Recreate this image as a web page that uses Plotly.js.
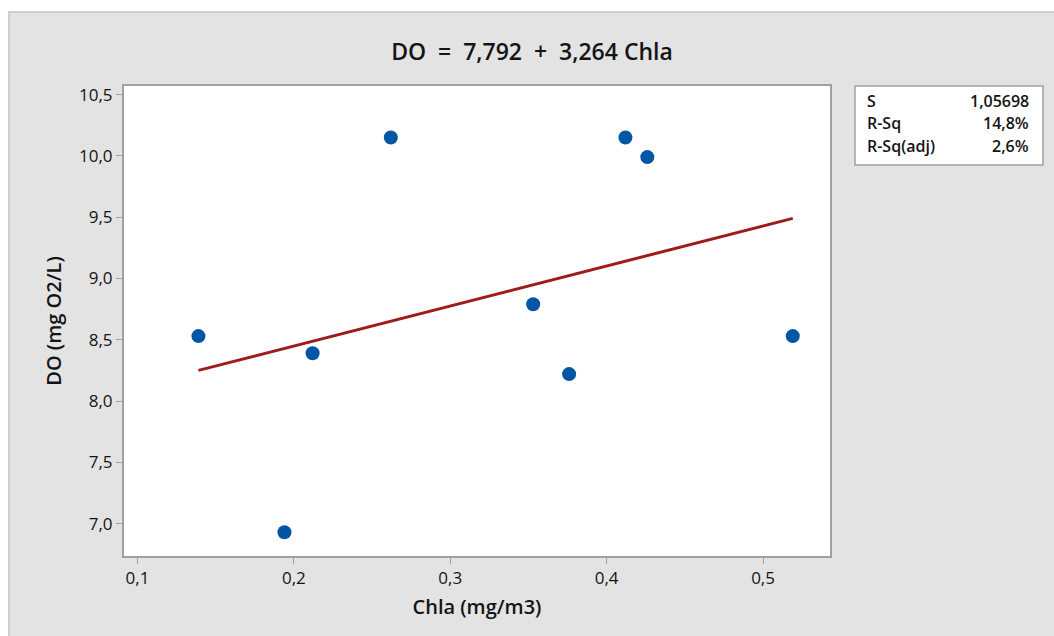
<!DOCTYPE html>
<html>
<head>
<meta charset="utf-8">
<script src="https://cdn.plot.ly/plotly-3.0.1.min.js"></script>
<style>
  html, body { margin: 0; padding: 0; background: #ffffff; width: 1054px; height: 636px; overflow: hidden; }
  #frame { position: absolute; left: 8px; top: 11px; width: 1046px; height: 625px; border-left: 2px solid #cfcfcf; border-top: 2px solid #cfcfcf; box-sizing: border-box; background: #e3e3e3; }
  #chart { width: 1044px; height: 623px; }
</style>
</head>
<body>
<div id="frame"><div id="chart"></div></div>
<script>
const chla = [0.139, 0.194, 0.212, 0.262, 0.353, 0.376, 0.412, 0.426, 0.519];
const dO   = [8.53, 6.93, 8.39, 10.15, 8.79, 8.22, 10.15, 9.99, 8.53];

// Fitted line endpoints
const fitX = [0.139, 0.519];
const fitY = [8.25, 9.49];

// Ticks
const xTickVals = [0.1, 0.2, 0.3, 0.4, 0.5];
const xTickText = ["0,1", "0,2", "0,3", "0,4", "0,5"];
const yTickVals = [7.0, 7.5, 8.0, 8.5, 9.0, 9.5, 10.0, 10.5];
const yTickText = ["7,0", "7,5", "8,0", "8,5", "9,0", "9,5", "10,0", "10,5"];

// Summary statistics
const statLabels = ["S", "R-Sq", "R-Sq(adj)"];
const statValues = ["1,05698", "14,8%", "2,6%"];

const titleText = "DO  =  7,792  +  3,264 Chla";
const xTitle = "Chla (mg/m3)";
const yTitle = "DO (mg O2/L)";

const font = "Open Sans, Noto Sans, sans-serif";
const txt = "#141414";

const traces = [
  {
    x: fitX, y: fitY, type: "scatter", mode: "lines",
    line: { color: "#9e1b1b", width: 3 }, hoverinfo: "skip", showlegend: false
  },
  {
    x: chla, y: dO, type: "scatter", mode: "markers",
    marker: { color: "#0055a5", size: 14 }, showlegend: false
  }
];

const statY = [0.968, 0.922, 0.872];
const annotations = [];
statLabels.forEach((l, i) => {
  annotations.push({ xref: "paper", yref: "paper", x: 1.049, y: statY[i], xanchor: "left", yanchor: "middle",
    text: l, showarrow: false, font: { family: font, size: 16, color: txt, weight: 600 } });
  annotations.push({ xref: "paper", yref: "paper", x: 1.2845, y: statY[i], xanchor: "right", yanchor: "middle",
    text: statValues[i], showarrow: false, font: { family: font, size: 16, color: txt, weight: 600 } });
});

const layout = {
  width: 1044, height: 623,
  margin: { l: 114, r: 224, t: 73, b: 80 },
  paper_bgcolor: "#e3e3e3",
  plot_bgcolor: "#ffffff",
  separators: ", ",
  title: { text: titleText, x: 0.5, xref: "container", xanchor: "center", y: 0.937, yref: "container", yanchor: "middle",
    font: { family: font, size: 23, color: txt, weight: 600 } },
  xaxis: {
    range: [0.0914, 0.5428], tickvals: xTickVals, ticktext: xTickText,
    showgrid: false, zeroline: false, showline: true, mirror: true, linecolor: "#a0a0a0", linewidth: 2,
    ticks: "outside", ticklen: 6, tickcolor: "#a0a0a0", tickwidth: 1,
    tickfont: { family: font, size: 17, color: txt, weight: 500 },
    title: { text: xTitle, standoff: 12, font: { family: font, size: 20, color: txt, weight: 600 } }
  },
  yaxis: {
    range: [6.736, 10.57], tickvals: yTickVals, ticktext: yTickText,
    showgrid: false, zeroline: false, showline: true, mirror: true, linecolor: "#a0a0a0", linewidth: 2,
    ticks: "outside", ticklen: 6, tickcolor: "#a0a0a0", tickwidth: 1,
    tickfont: { family: font, size: 17, color: txt, weight: 500 },
    title: { text: yTitle, standoff: 12, font: { family: font, size: 20, color: txt, weight: 600 } }
  },
  shapes: [
    { type: "rect", xref: "paper", yref: "paper", x0: 1.0354, x1: 1.3017, y0: 0.832, y1: 1.0,
      fillcolor: "#ffffff", line: { color: "#a0a0a0", width: 1.5 }, layer: "below" }
  ],
  annotations: annotations
};

Plotly.newPlot("chart", traces, layout, { displayModeBar: false, staticPlot: true });
</script>
</body>
</html>
